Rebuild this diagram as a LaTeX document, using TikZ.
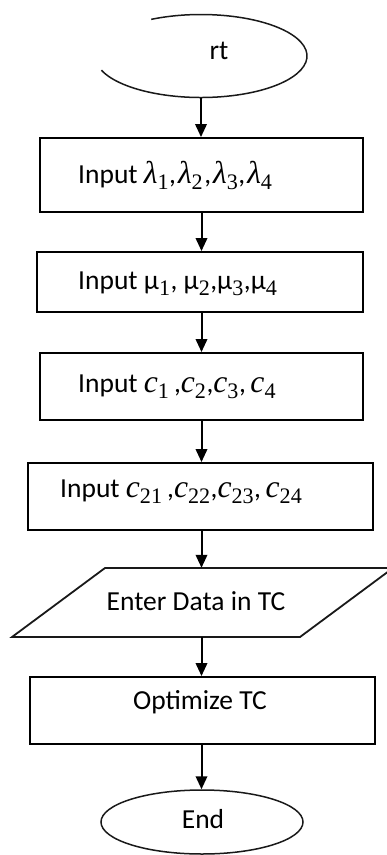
\documentclass[tikz,border=0pt]{standalone}
\usepackage{fontspec}
\setmainfont{Carlito}
\newfontfamily\symfont{Liberation Serif}[Scale=1.15]
\usetikzlibrary{arrows.meta,shapes.geometric}

% italic symbol with an upright subscript index
\newcommand\isym[2]{{\symfont\itshape #1}\textsubscript{\symfont #2}}
% upright symbol with an upright subscript index
\newcommand\usym[2]{#1\textsubscript{\symfont #2}}

\begin{document}
\begin{tikzpicture}[x=1pt,y=-1pt,
  every node/.style={font=\fontsize{27.5}{33}\selectfont, inner sep=0pt},
  box/.style={draw, rectangle, line width=1.9pt},
  hold/.style={rectangle, draw=none},
  flow/.style={line width=2pt, -{Triangle[length=13pt,width=11.5pt]}},
  outline/.style={line width=1.5pt, gray!20!black}]

\clip (0,0) rectangle (387,855);

% start terminal (only part of its outline is drawn)
\node[ellipse, minimum width=212pt, minimum height=83pt] (start) at (201,56) {};
\draw[outline] ([shift={(-160:106pt and 41.5pt)}]start.center)
  arc[start angle=-160, end angle=118, x radius=106pt, y radius=41.5pt];
\node[anchor=base] (rt) at (219,59) {rt};

% input boxes
\node[box, minimum width=323pt, minimum height=74pt] (in1) at (201.5,175) {};
\node[anchor=base west] (t1) at (78,183)
  {Input \isym{λ}{1},\kern2pt\isym{λ}{2}\kern1pt,\kern2pt\isym{λ}{3},\kern2pt\isym{λ}{4}};

\node[box, minimum width=326pt, minimum height=60pt] (in2) at (200,282) {};
\node[anchor=base west] (t2) at (78,289) {Input \usym{μ}{1}, \usym{μ}{2},\usym{μ}{3},\usym{μ}{4}};

\node[box, minimum width=323pt, minimum height=67pt] (in3) at (201.5,386.5) {};
\node[anchor=base west] (t3) at (78,392) {Input \isym{c}{1}\,,\isym{c}{2},\isym{c}{3},\,\isym{c}{4}};

\node[box, minimum width=345pt, minimum height=67pt] (in4) at (200.5,496.5) {};
\node[anchor=base west] (t4) at (60,497) {Input \isym{c}{21}\,,\isym{c}{22},\isym{c}{23},\,\isym{c}{24}};

% data parallelogram
\node[hold, minimum width=288pt, minimum height=69pt] (data) at (202.5,602.5) {};
\draw[outline, line width=1.8pt] (12,637) -- (105,568) -- (393,568) -- (300,637) -- cycle;
\node[anchor=base] (t5) at (196,610) {Enter Data in TC};

% optimisation step
\node[box, minimum width=345pt, minimum height=67pt] (opt) at (202.5,710.5) {};
\node[anchor=base] (t6) at (200,709) {Optimize TC};

% end terminal
\node[ellipse, draw, outline, minimum width=202pt, minimum height=64pt] (stop) at (202,822) {};
\node[anchor=base] (t7) at (203,828) {End};

% connectors
\draw[flow] (start.south) -- (start.south |- in1.north);
\draw[flow] (in1.south) -- (in1.south |- in2.north);
\draw[flow] (in2.south -| in1.south) -- (in1.south |- in3.north);
\draw[flow] (in3.south) -- (in3.south |- in4.north);
\draw[flow] (in4.south -| in3.south) -- (in3.south |- data.north);
\draw[flow] (data.south -| in3.south) -- (in3.south |- opt.north);
\draw[flow] (opt.south -| in3.south) -- (in3.south |- stop.north);
\end{tikzpicture}
\end{document}
